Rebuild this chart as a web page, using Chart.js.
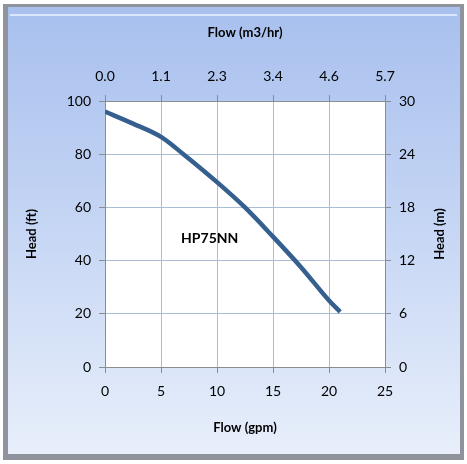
<!DOCTYPE html>
<html>
<head>
<meta charset="utf-8">
<script src="https://cdn.jsdelivr.net/npm/chart.js@4"></script>
<style>
  html, body { margin: 0; padding: 0; background: #fff; }
  #wrap { width: 467px; height: 464px; }
</style>
</head>
<body>
<div id="wrap"><canvas id="c" width="467" height="464"></canvas></div>
<script>
// pump curve HP75NN
const flowGpm = [0, 2.5, 5, 7, 10, 12.5, 15, 17.5, 20, 21];
const headFt = [96, 91.5, 86.5, 80, 69.5, 60, 49, 37.5, 25, 20.7];
const topTickLabels = ['0.0', '1.1', '2.3', '3.4', '4.6', '5.7'];
const curveName = 'HP75NN';
const namePos = { x: 9.35, y: 48.5 };
const rightTitle = 'Head (m)';

const FONT = 'Lato, "Open Sans", sans-serif';
const gridColor = '#a9bdd6';
const axisColor = '#8c8c8c';

const framePlugin = {
    id: 'frame',
    beforeDraw(chart) {
        const ctx = chart.ctx;
        const w = chart.width, h = chart.height;
        ctx.save();
        ctx.fillStyle = '#ffffff';
        ctx.fillRect(0, 0, w, h);
        // outer grey bevel
        ctx.fillStyle = '#8f949c';
        ctx.fillRect(3, 4, w - 6, h - 8);
        const g = ctx.createLinearGradient(0, 8, 0, h - 10);
        g.addColorStop(0, '#a8c0ee');
        g.addColorStop(0.5, '#c6d6f4');
        g.addColorStop(1, '#e8effb');
        ctx.fillStyle = g;
        ctx.fillRect(8, 7, w - 15, h - 17);
        // light highlight along top
        ctx.fillStyle = 'rgba(230,240,255,0.8)';
        ctx.fillRect(10, 14, w - 20, 2);
        const a = chart.chartArea;
        ctx.fillStyle = '#ffffff';
        ctx.fillRect(a.left, a.top, a.right - a.left, a.bottom - a.top);
        ctx.restore();
    },
    afterDatasetsDraw(chart) {
        const ctx = chart.ctx;
        const x = chart.scales.x.getPixelForValue(namePos.x);
        const y = chart.scales.y.getPixelForValue(namePos.y);
        ctx.save();
        ctx.font = 'bold 14px ' + FONT;
        ctx.fillStyle = '#000';
        ctx.textAlign = 'center';
        ctx.textBaseline = 'middle';
        ctx.fillText(curveName, x, y);

        // right axis title reads bottom-to-top like the left one
        const s = chart.scales.y2;
        ctx.font = 'bold 13px ' + FONT;
        ctx.translate(s.right - 17, (s.top + s.bottom) / 2);
        ctx.rotate(-Math.PI / 2);
        ctx.fillText(rightTitle, 0, 0);
        ctx.restore();
    }
};

const tickFont = { family: FONT, size: 14 };
const titleFont = { family: FONT, size: 13, weight: 'bold' };

new Chart(document.getElementById('c'), {
    type: 'line',
    data: {
        datasets: [{
            data: flowGpm.map((v, i) => ({ x: v, y: headFt[i] })),
            borderColor: '#355f8f',
            borderWidth: 4.5,
            pointRadius: 0,
            tension: 0.4,
            cubicInterpolationMode: 'monotone',
            xAxisID: 'x',
            yAxisID: 'y'
        }]
    },
    options: {
        responsive: false,
        animation: false,
        layout: { padding: { left: 10, right: 10, top: 10, bottom: 10 } },
        plugins: { legend: { display: false }, tooltip: { enabled: false } },
        scales: {
            x: {
                type: 'linear', position: 'bottom', min: 0, max: 25,
                ticks: { stepSize: 5, font: tickFont, color: '#000', padding: 10, maxRotation: 0 },
                grid: { color: gridColor, tickColor: axisColor, tickLength: 6 },
                border: { color: axisColor },
                title: { display: true, text: 'Flow (gpm)', font: titleFont, color: '#000', padding: { top: 4, bottom: 18 } },
                afterFit(s) { s.height = 87; }
            },
            x2: {
                type: 'linear', position: 'top', min: 0, max: 25,
                ticks: {
                    stepSize: 5, font: tickFont, color: '#000', padding: 10, maxRotation: 0,
                    callback: (v) => topTickLabels[Math.round(v / 5)]
                },
                grid: { drawOnChartArea: false, tickColor: axisColor, tickLength: 6 },
                border: { color: axisColor },
                title: { display: true, text: 'Flow (m3/hr)', font: titleFont, color: '#000', padding: { top: 15, bottom: 4 } },
                afterFit(s) { s.height = 91; }
            },
            y: {
                type: 'linear', position: 'left', min: 0, max: 100,
                ticks: { stepSize: 20, font: tickFont, color: '#000', padding: 8 },
                grid: { color: gridColor, tickColor: axisColor, tickLength: 6 },
                border: { color: axisColor },
                title: { display: true, text: 'Head (ft)', font: titleFont, color: '#000', padding: { top: 14, bottom: 0 } },
                afterFit(s) { s.width = 95; }
            },
            y2: {
                type: 'linear', position: 'right', min: 0, max: 30,
                ticks: { stepSize: 6, font: tickFont, color: '#000', padding: 8 },
                grid: { drawOnChartArea: false, tickColor: axisColor, tickLength: 6 },
                border: { color: axisColor },
                title: { display: false },
                afterFit(s) { s.width = 72; }
            }
        }
    },
    plugins: [framePlugin]
});
</script>
</body>
</html>
